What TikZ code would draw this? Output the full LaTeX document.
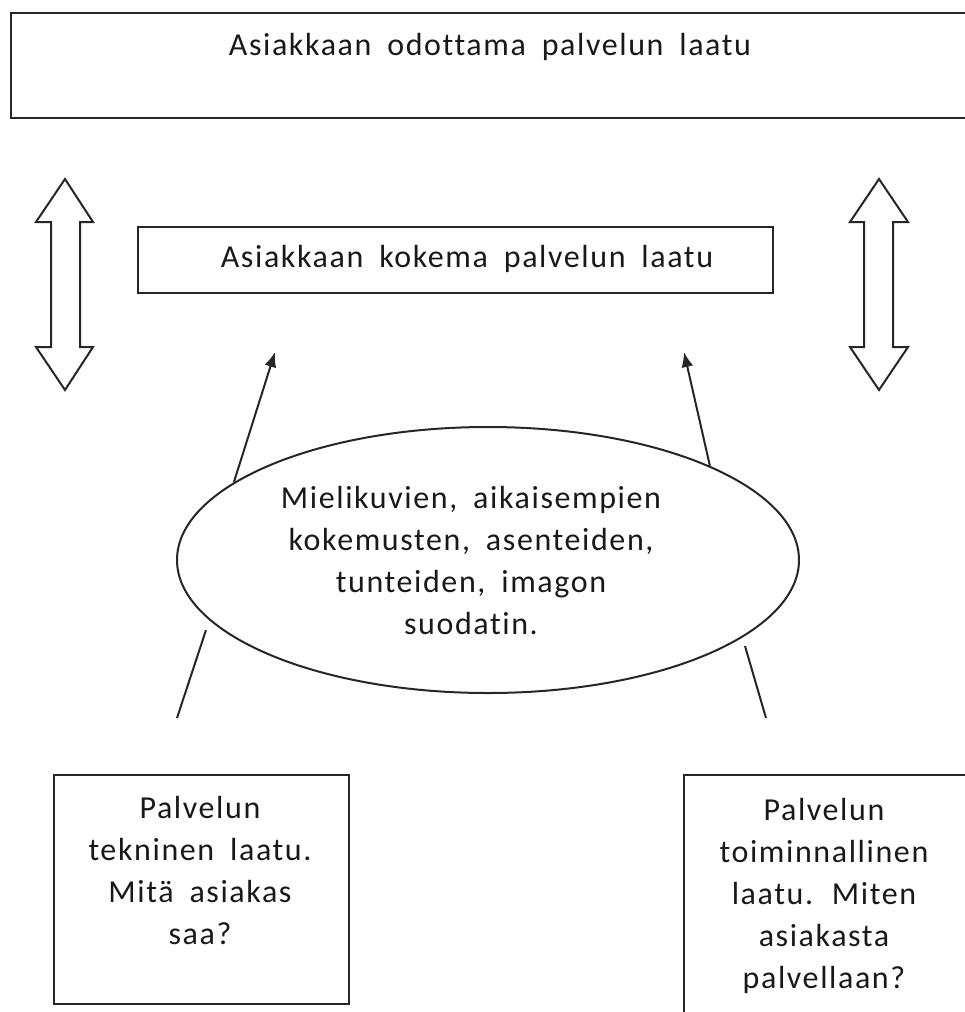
\documentclass[tikz,border=0pt]{standalone}
\usepackage{fontspec}
\setmainfont{Carlito}[LetterSpace=5, WordSpace=1.8, Ligatures={NoCommon}]
\usetikzlibrary{arrows.meta,shapes.geometric}

\tikzset{
  laatikko/.style={draw, rectangle, inner sep=0pt, anchor=north west},
  teksti/.style={align=center, font=\fontsize{32}{42}\selectfont, text=black!90},
  nuoli/.style={-{Latex[length=15pt,width=12pt]}}
}

\begin{document}
\begin{tikzpicture}[x=1pt, y=-1pt, line width=2pt, draw=black!85]
  \useasboundingbox (0,0) rectangle (964,1012);

  % ylin laatikko
  \node[laatikko, minimum width=980, minimum height=105] (odotettu) at (10,12) {};
  \path (490,47) node[teksti] (odotettut) {Asiakkaan odottama palvelun laatu};

  % keskimmainen laatikko
  \node[laatikko, minimum width=635, minimum height=66] (koettu) at (137,226) {};
  \path (467,259) node[teksti] (koettut) {Asiakkaan kokema palvelun laatu};

  % kaksoisnuolet
  \draw (65,179) -- (93,222) -- (80,222) -- (80,347) -- (93,347) -- (65,390)
    -- (36,347) -- (51,347) -- (51,222) -- (36,222) -- cycle;
  \draw (879,179) -- (908,222) -- (893,222) -- (893,347) -- (908,347) -- (879,390)
    -- (850,347) -- (864,347) -- (864,222) -- (850,222) -- cycle;

  % suodatin
  \node[draw, ellipse, minimum width=622, minimum height=266, inner sep=0pt] (suodatin) at (488,560) {};
  \path (471,561) node[teksti] (suodatint) {Mielikuvien, aikaisempien\\ kokemusten, asenteiden,\\ tunteiden, imagon\\ suodatin.};

  \coordinate (kv) at (275,352);
  \coordinate (ko) at (684,352);
  \draw[nuoli] (suodatin.163) -- (kv);
  \draw[nuoli] (suodatin.23) -- (ko);

  % alalaatikot
  \node[laatikko, minimum width=295, minimum height=229] (tekninen) at (53,774) {};
  \path (200,870) node[teksti] (tekninent) {Palvelun\\ tekninen laatu.\\ Mitä asiakas\\ saa?};

  \node[laatikko, minimum width=320, minimum height=260] (toiminnallinen) at (683,774) {};
  \path (824,896) node[teksti] (toiminnallinent) {Palvelun\\ toiminnallinen\\ laatu. Miten\\ asiakasta\\ palvellaan?};

  \coordinate (va1) at (177,718);
  \coordinate (va2) at (206,630);
  \draw (va1) -- (va2);
  \coordinate (oa1) at (766,718);
  \coordinate (oa2) at (745,646);
  \draw (oa1) -- (oa2);

\end{tikzpicture}
\end{document}
